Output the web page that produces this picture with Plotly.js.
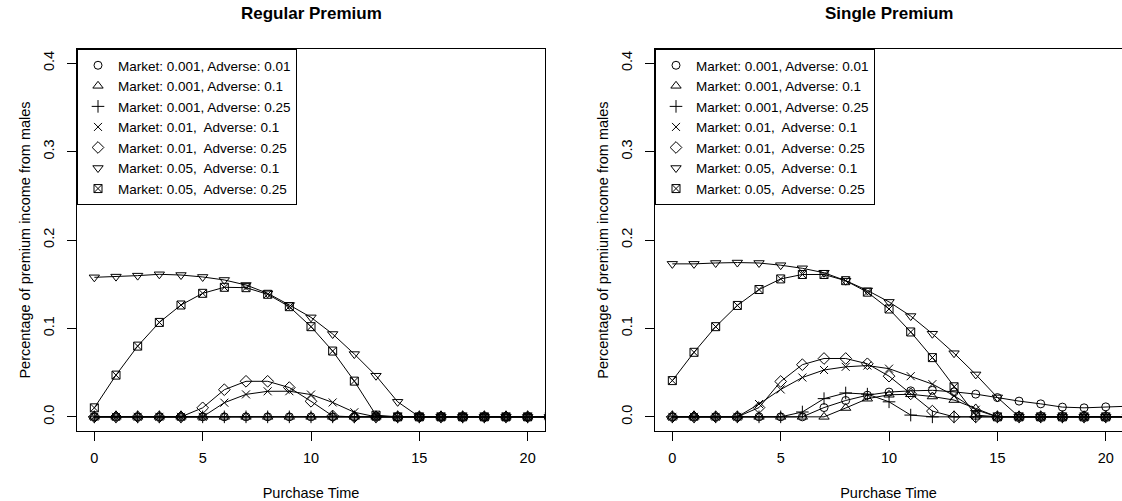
<!DOCTYPE html>
<html>
<head>
<meta charset="utf-8">
<script src="https://cdn.plot.ly/plotly-3.0.1.min.js"></script>
<style>html,body{margin:0;padding:0;background:#fff;}#chart{width:1122px;height:501px;}</style>
</head>
<body>
<div id="chart"></div>
<script>
// ---- data ----
const purchaseTime = [0,1,2,3,4,5,6,7,8,9,10,11,12,13,14,15,16,17,18,19,20,21];

const seriesNames = [
  "Market: 0.001, Adverse: 0.01",
  "Market: 0.001, Adverse: 0.1",
  "Market: 0.001, Adverse: 0.25",
  "Market: 0.01,  Adverse: 0.1",
  "Market: 0.01,  Adverse: 0.25",
  "Market: 0.05,  Adverse: 0.1",
  "Market: 0.05,  Adverse: 0.25"
];

// Regular Premium panel
const regM001A001 = [0,0,0,0,0,0,0,0,0,0,0,0,0,0,0,0,0,0,0,0,0,0];
const regM001A01  = [0,0,0,0,0,0,0,0,0,0,0,0,0,0,0,0,0,0,0,0,0,0];
const regM001A025 = [0,0,0,0,0,0,0,0,0,0,0,0,0,0,0,0,0,0,0,0,0,0];
const regM01A01   = [0,0,0,0,0,0,0.016,0.0254,0.0289,0.029,0.0252,0.0163,0.0052,0,0,0,0,0,0,0,0,0];
const regM01A025  = [0,0,0,0,0,0.0102,0.0307,0.0402,0.0402,0.0331,0.0176,0.001,0,0,0,0,0,0,0,0,0,0];
const regM05A01   = [0.1578,0.1586,0.1597,0.1612,0.1604,0.1582,0.1548,0.1491,0.1397,0.1265,0.1125,0.0937,0.071,0.0465,0.017,0,0,0,0,0,0,0];
const regM05A025  = [0.0102,0.0472,0.08,0.1068,0.1265,0.1397,0.1465,0.1461,0.1386,0.1246,0.102,0.0744,0.0404,0.0019,0,0,0,0,0,0,0,0];

// Single Premium panel
const sglM001A001 = [0,0,0,0,0,0,0,0.0105,0.0185,0.0245,0.028,0.0294,0.03,0.0283,0.0257,0.0218,0.0178,0.0147,0.011,0.0102,0.0113,0.012];
const sglM001A01  = [0,0,0,0,0,0,0,0,0.01,0.0205,0.025,0.0255,0.023,0.019,0.0095,0,0,0,0,0,0,0];
const sglM001A025 = [0,0,0,0,0,0,0.0055,0.0206,0.027,0.0257,0.017,0.002,0,0,0,0,0,0,0,0,0,0];
const sglM01A01   = [0,0,0,0,0.0145,0.031,0.0445,0.053,0.0566,0.058,0.0545,0.046,0.037,0.024,0.008,0,0,0,0,0,0,0];
const sglM01A025  = [0,0,0,0,0.0105,0.04,0.059,0.066,0.066,0.06,0.046,0.026,0.0065,0,0,0,0,0,0,0,0,0];
const sglM05A01   = [0.173,0.173,0.174,0.1745,0.174,0.1715,0.168,0.163,0.154,0.143,0.13,0.114,0.094,0.072,0.048,0.022,0,0,0,0,0,0];
const sglM05A025  = [0.041,0.073,0.102,0.126,0.144,0.156,0.161,0.161,0.154,0.141,0.122,0.096,0.067,0.034,0.002,0,0,0,0,0,0,0];

const panelTitles = ["Regular Premium", "Single Premium"];
const xTitle = "Purchase Time";
const yTitle = "Percentage of premium income from males";
const xTicks = [0,5,10,15,20];
const yTicks = [0,0.1,0.2,0.3,0.4];

// ---- styles ----
const symbols = ["circle-open","triangle-up-open","cross-thin-open","x-thin-open","diamond-open","triangle-down-open","square-x-open"];
const sizes = [8,9,9,8,9,9,8];
const FONT = "Liberation Sans, Arial, Helvetica, sans-serif";

const regSeries = [regM001A001, regM001A01, regM001A025, regM01A01, regM01A025, regM05A01, regM05A025];
const sglSeries = [sglM001A001, sglM001A01, sglM001A025, sglM01A01, sglM01A025, sglM05A01, sglM05A025];

const traces = [];
function addPanel(series, xa, ya, legendId) {
  series.forEach(function (vals, i) {
    traces.push({
      type: "scatter", mode: "lines", x: purchaseTime, y: vals,
      xaxis: xa, yaxis: ya, showlegend: false, hoverinfo: "skip",
      line: {color: "#000", width: 1}
    });
  });
  series.forEach(function (vals, i) {
    traces.push({
      type: "scatter", mode: "markers", x: purchaseTime, y: vals,
      xaxis: xa, yaxis: ya, name: seriesNames[i], legend: legendId,
      marker: {symbol: symbols[i], size: sizes[i], color: "#000",
               line: {color: "#000", width: 1}}
    });
  });
}
addPanel(regSeries, "x", "y", "legend");
addPanel(sglSeries, "x2", "y2", "legend2");

function xAxis(domain, range) {
  return {
    domain: domain, range: range, autorange: false,
    showgrid: false, zeroline: false,
    showline: true, mirror: true, linecolor: "#000", linewidth: 1,
    ticks: "outside", ticklen: 9, tickwidth: 1, tickcolor: "#000",
    tickvals: xTicks, ticklabelstandoff: 5,
    tickfont: {family: FONT, size: 14.5, color: "#000"},
    title: {text: xTitle, font: {family: FONT, size: 14.5, color: "#000"}, standoff: 22}
  };
}
function yAxis(domain, anchor) {
  return {
    domain: domain, range: [-0.016, 0.416], autorange: false, anchor: anchor,
    showgrid: false, zeroline: false,
    showline: true, mirror: true, linecolor: "#000", linewidth: 1,
    ticks: "outside", ticklen: 9, tickwidth: 1, tickcolor: "#000",
    tickvals: yTicks, tickformat: ".1f", tickangle: -90, ticklabelstandoff: 7,
    tickfont: {family: FONT, size: 14.5, color: "#000"},
    title: {text: yTitle, font: {family: FONT, size: 14.5, color: "#000"}, standoff: 7}
  };
}

const yDom = [70/501, 452/501];
const legendStyle = function (xpos) {
  return {
    x: xpos, y: yDom[1], xanchor: "left", yanchor: "top",
    bgcolor: "#fff", bordercolor: "#000", borderwidth: 1,
    font: {family: FONT, size: 13.5, color: "#000"},
    itemwidth: 30, traceorder: "normal"
  };
};

const layout = {
  width: 1122, height: 501,
  margin: {l: 0, r: 0, t: 0, b: 0, autoexpand: false},
  paper_bgcolor: "#fff", plot_bgcolor: "#fff",
  font: {family: FONT, color: "#000"},
  xaxis: Object.assign(xAxis([77/1122, 545/1122], [-0.8, 20.8]), {anchor: "y"}),
  yaxis: yAxis(yDom, "x"),
  xaxis2: Object.assign(xAxis([655/1122, 1], [-0.8, 20.75]), {anchor: "y2"}),
  yaxis2: yAxis(yDom, "x2"),
  legend: legendStyle(77/1122),
  legend2: legendStyle(655/1122),
  annotations: [
    {text: "<b>" + panelTitles[0] + "</b>", xref: "paper", yref: "paper",
     x: 311/1122, y: 1 - 14/501, xanchor: "center", yanchor: "middle", showarrow: false,
     font: {family: FONT, size: 17, color: "#000"}},
    {text: "<b>" + panelTitles[1] + "</b>", xref: "paper", yref: "paper",
     x: 889/1122, y: 1 - 14/501, xanchor: "center", yanchor: "middle", showarrow: false,
     font: {family: FONT, size: 17, color: "#000"}}
  ],
  showlegend: true
};

Plotly.newPlot("chart", traces, layout, {staticPlot: true, displayModeBar: false});
</script>
</body>
</html>
